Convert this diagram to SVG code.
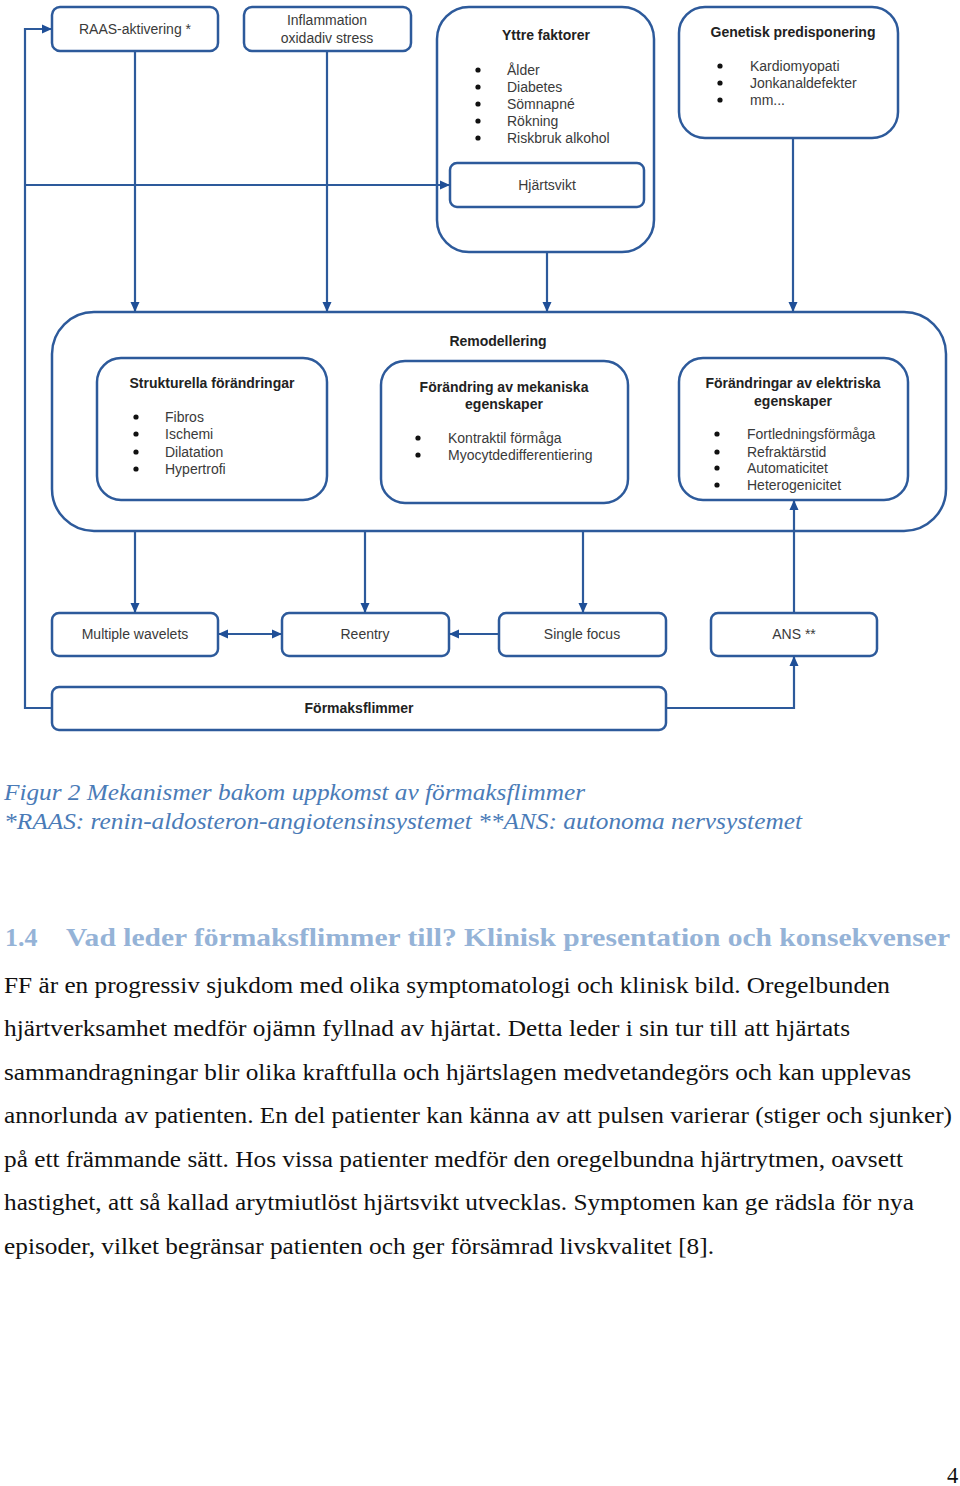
<svg xmlns="http://www.w3.org/2000/svg" width="960" height="1486" viewBox="0 0 960 1486">
<defs>
<marker id="ah" markerWidth="10" markerHeight="10" refX="9" refY="5" orient="auto" markerUnits="userSpaceOnUse">
<path d="M0,0.5 L10,5 L0,9.5 z" fill="#1f4f97"/>
</marker>
<marker id="ahs" markerWidth="10" markerHeight="10" refX="1" refY="5" orient="auto" markerUnits="userSpaceOnUse">
<path d="M10,0.5 L0,5 L10,9.5 z" fill="#1f4f97"/>
</marker>
</defs>
<style>
.box{fill:#fff;stroke:#2d5a9b;stroke-width:2.5}
.ln{fill:none;stroke:#2d5a9b;stroke-width:2.2}
.t{font-family:"Liberation Sans",Arial,sans-serif;font-size:14px;fill:#3a3a3a}
.b{font-family:"Liberation Sans",Arial,sans-serif;font-size:14px;font-weight:bold;fill:#222}
.c{text-anchor:middle}
.cap{font-family:"Liberation Serif","Times New Roman",serif;font-style:italic;font-size:24px;fill:#4a7bb7}
.h{font-family:"Liberation Serif","Times New Roman",serif;font-weight:bold;font-size:26px;fill:#95b3d7}
.p{font-family:"Liberation Serif","Times New Roman",serif;font-size:22.5px;fill:#111}
</style>
<rect width="960" height="1486" fill="#fff"/>

<g id="raas">
<rect class="box" x="52" y="7" width="166" height="44" rx="8"/>
<text class="t c" x="135" y="34">RAAS-aktivering *</text>
</g>
<g id="inflammation">
<rect class="box" x="244" y="7" width="167" height="44" rx="8"/>
<text class="t c" x="327" y="25">Inflammation</text>
<text class="t c" x="327" y="43">oxidadiv stress</text>
</g>
<g id="yttre">
<rect class="box" x="437" y="7" width="217" height="245" rx="32"/>
<text class="b c" x="546" y="40">Yttre faktorer</text>
<g class="t">
<circle cx="478" cy="70" r="2.6" fill="#111"/><text x="507" y="75">Ålder</text>
<circle cx="478" cy="87" r="2.6" fill="#111"/><text x="507" y="92">Diabetes</text>
<circle cx="478" cy="104" r="2.6" fill="#111"/><text x="507" y="109">Sömnapné</text>
<circle cx="478" cy="121" r="2.6" fill="#111"/><text x="507" y="126">Rökning</text>
<circle cx="478" cy="138" r="2.6" fill="#111"/><text x="507" y="143">Riskbruk alkohol</text>
</g>
</g>
<g id="hjartsvikt">
<rect class="box" x="450" y="163" width="194" height="44" rx="7"/>
<text class="t c" x="547" y="190">Hjärtsvikt</text>
</g>
<g id="genetisk">
<rect class="box" x="679" y="7" width="219" height="131" rx="26"/>
<text class="b c" x="793" y="37">Genetisk predisponering</text>
<g class="t">
<circle cx="720" cy="66" r="2.6" fill="#111"/><text x="750" y="71">Kardiomyopati</text>
<circle cx="720" cy="83" r="2.6" fill="#111"/><text x="750" y="88">Jonkanaldefekter</text>
<circle cx="720" cy="100" r="2.6" fill="#111"/><text x="750" y="105">mm...</text>
</g>
</g>

<g id="remodellering">
<rect class="box" x="52" y="312" width="894" height="219" rx="42"/>
<text class="b c" x="498" y="346">Remodellering</text>
</g>
<g id="strukturella">
<rect class="box" x="97" y="358" width="230" height="142" rx="24"/>
<text class="b c" x="212" y="388">Strukturella förändringar</text>
<g class="t">
<circle cx="136" cy="417" r="2.6" fill="#111"/><text x="165" y="422">Fibros</text>
<circle cx="136" cy="434" r="2.6" fill="#111"/><text x="165" y="439">Ischemi</text>
<circle cx="136" cy="452" r="2.6" fill="#111"/><text x="165" y="457">Dilatation</text>
<circle cx="136" cy="469" r="2.6" fill="#111"/><text x="165" y="474">Hypertrofi</text>
</g>
</g>
<g id="mekaniska">
<rect class="box" x="381" y="361" width="247" height="142" rx="24"/>
<text class="b c" x="504" y="392">Förändring av mekaniska</text>
<text class="b c" x="504" y="409">egenskaper</text>
<g class="t">
<circle cx="418" cy="438" r="2.6" fill="#111"/><text x="448" y="443">Kontraktil förmåga</text>
<circle cx="418" cy="455" r="2.6" fill="#111"/><text x="448" y="460">Myocytdedifferentiering</text>
</g>
</g>
<g id="elektriska">
<rect class="box" x="679" y="358" width="229" height="142" rx="24"/>
<text class="b c" x="793" y="388">Förändringar av elektriska</text>
<text class="b c" x="793" y="406">egenskaper</text>
<g class="t">
<circle cx="717" cy="434" r="2.6" fill="#111"/><text x="747" y="439">Fortledningsförmåga</text>
<circle cx="717" cy="452" r="2.6" fill="#111"/><text x="747" y="457">Refraktärstid</text>
<circle cx="717" cy="468" r="2.6" fill="#111"/><text x="747" y="473">Automaticitet</text>
<circle cx="717" cy="485" r="2.6" fill="#111"/><text x="747" y="490">Heterogenicitet</text>
</g>
</g>

<g id="multiple">
<rect class="box" x="52" y="613" width="166" height="43" rx="7"/>
<text class="t c" x="135" y="639">Multiple wavelets</text>
</g>
<g id="reentry">
<rect class="box" x="282" y="613" width="167" height="43" rx="7"/>
<text class="t c" x="365" y="639">Reentry</text>
</g>
<g id="singlefocus">
<rect class="box" x="499" y="613" width="167" height="43" rx="7"/>
<text class="t c" x="582" y="639">Single focus</text>
</g>
<g id="ans">
<rect class="box" x="711" y="613" width="166" height="43" rx="7"/>
<text class="t c" x="794" y="639">ANS **</text>
</g>
<g id="formaksflimmer">
<rect class="box" x="52" y="687" width="614" height="43" rx="7"/>
<text class="b c" x="359" y="713">Förmaksflimmer</text>
</g>

<g id="connectors">
<line class="ln" x1="135" y1="52" x2="135" y2="311" marker-end="url(#ah)"/>
<line class="ln" x1="327" y1="52" x2="327" y2="311" marker-end="url(#ah)"/>
<line class="ln" x1="547" y1="253" x2="547" y2="311" marker-end="url(#ah)"/>
<line class="ln" x1="793" y1="139" x2="793" y2="311" marker-end="url(#ah)"/>
<line class="ln" x1="25" y1="185" x2="449" y2="185" marker-end="url(#ah)"/>
<polyline class="ln" points="51,708 25,708 25,29 51,29" marker-end="url(#ah)"/>
<line class="ln" x1="135" y1="532" x2="135" y2="612" marker-end="url(#ah)"/>
<line class="ln" x1="365" y1="532" x2="365" y2="612" marker-end="url(#ah)"/>
<line class="ln" x1="583" y1="532" x2="583" y2="612" marker-end="url(#ah)"/>
<line class="ln" x1="794" y1="612" x2="794" y2="501" marker-end="url(#ah)"/>
<line class="ln" x1="219" y1="634" x2="281" y2="634" marker-start="url(#ahs)" marker-end="url(#ah)"/>
<line class="ln" x1="498" y1="634" x2="450" y2="634" marker-end="url(#ah)"/>
<polyline class="ln" points="667,708 794,708 794,657" marker-end="url(#ah)"/>
</g>

<g id="caption">
<text class="cap" x="4" y="800" textLength="581" lengthAdjust="spacingAndGlyphs">Figur 2 Mekanismer bakom uppkomst av förmaksflimmer</text>
<text class="cap" x="4" y="829" textLength="798" lengthAdjust="spacingAndGlyphs">*RAAS: renin-aldosteron-angiotensinsystemet **ANS: autonoma nervsystemet</text>
</g>
<g id="heading">
<text class="h" x="5" y="946">1.4</text>
<text class="h" x="66" y="946" textLength="884" lengthAdjust="spacingAndGlyphs">Vad leder förmaksflimmer till? Klinisk presentation och konsekvenser</text>
</g>
<g id="paragraph">
<text class="p" x="4" y="993" textLength="886" lengthAdjust="spacingAndGlyphs">FF är en progressiv sjukdom med olika symptomatologi och klinisk bild. Oregelbunden</text>
<text class="p" x="4" y="1036" textLength="846" lengthAdjust="spacingAndGlyphs">hjärtverksamhet medför ojämn fyllnad av hjärtat. Detta leder i sin tur till att hjärtats</text>
<text class="p" x="4" y="1080" textLength="907" lengthAdjust="spacingAndGlyphs">sammandragningar blir olika kraftfulla och hjärtslagen medvetandegörs och kan upplevas</text>
<text class="p" x="4" y="1123" textLength="948" lengthAdjust="spacingAndGlyphs">annorlunda av patienten. En del patienter kan känna av att pulsen varierar (stiger och sjunker)</text>
<text class="p" x="4" y="1167" textLength="899" lengthAdjust="spacingAndGlyphs">på ett främmande sätt. Hos vissa patienter medför den oregelbundna hjärtrytmen, oavsett</text>
<text class="p" x="4" y="1210" textLength="910" lengthAdjust="spacingAndGlyphs">hastighet, att så kallad arytmiutlöst hjärtsvikt utvecklas. Symptomen kan ge rädsla för nya</text>
<text class="p" x="4" y="1254" textLength="710" lengthAdjust="spacingAndGlyphs">episoder, vilket begränsar patienten och ger försämrad livskvalitet [8].</text>
</g>
<text class="p" x="947" y="1483">4</text>
</svg>
